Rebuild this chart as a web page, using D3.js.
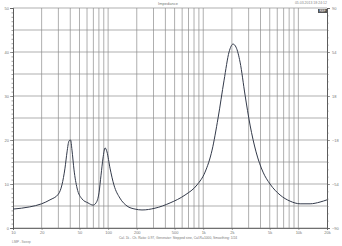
<!DOCTYPE html>
<html>
<head>
<meta charset="utf-8">
<script src="https://cdn.jsdelivr.net/npm/d3@7"></script>
<style>
  body { margin: 0; background: #fff; }
  svg { display: block; font-family: "Liberation Sans", Arial, sans-serif; }
</style>
</head>
<body>
<div id="chart"></div>
<script>
// impedance sweep
const freqs = [10, 15, 20, 24.5, 30, 32.7, 35.2, 37, 38.8, 40.3, 41.7, 43.8, 47.1, 53.2, 61.5, 69.4, 74.6,
  80.2, 84.2, 88.4, 92.8, 97.3, 104.7, 115, 133, 158, 192, 227, 311, 448, 644, 861, 1045, 1238, 1432,
  1656, 1868, 2057, 2212, 2439, 2752, 3105, 3591, 4252, 5036, 6422, 8190, 10430, 13280, 16900, 20000];
const ohms = [4.3, 4.8, 5.5, 6.4, 7.7, 9.8, 13.6, 17.3, 19.8, 20, 17.7, 13.2, 9.1, 6.6, 5.7, 5.2, 5.7,
  8.0, 12, 15.9, 18.2, 17.3, 13.6, 9.8, 6.8, 5.0, 4.3, 4.1, 4.5, 5.7, 7.5, 9.8, 12.7, 17.7, 25,
  33.6, 40, 41.8, 41.1, 37.7, 30.2, 23.4, 17.3, 12.7, 10, 7.5, 6.1, 5.5, 5.5, 5.9, 6.4];

const xTickLabels = [10, 20, 50, 100, 200, 500, 1000, 2000, 5000, 10000, 20000];
const leftTicks = [0, 10, 20, 30, 40, 50];
const rightTicks = [-90, -54, -18, 18, 54, 90];

const W = 342, H = 246;
const margin = { top: 8, right: 15, bottom: 18, left: 13 };

const svg = d3.select("#chart").append("svg")
  .attr("width", W).attr("height", H);

svg.append("rect").attr("width", W).attr("height", H).attr("fill", "#fff");

const x = d3.scaleLog().domain([10, 20000]).range([margin.left, W - margin.right]);
const y = d3.scaleLinear().domain([0, 50]).range([H - margin.bottom, margin.top]);
const yR = d3.scaleLinear().domain([-90, 90]).range([H - margin.bottom, margin.top]);

// vertical grid: every 1..9 per decade
const vgrid = [];
for (let dec = 10; dec <= 10000; dec *= 10) {
  for (let m = 1; m <= 9; m++) {
    const f = dec * m;
    if (f > 10 && f < 20000) vgrid.push(f);
  }
}
svg.append("g").selectAll("line").data(vgrid).enter().append("line")
  .attr("x1", d => x(d)).attr("x2", d => x(d))
  .attr("y1", y(50)).attr("y2", y(0))
  .attr("stroke", "#8c8c8c").attr("stroke-width", 0.7);

svg.append("g").selectAll("line").data(d3.range(0, 51, 5)).enter().append("line")
  .attr("x1", x(10)).attr("x2", x(20000))
  .attr("y1", d => y(d)).attr("y2", d => y(d))
  .attr("stroke", "#8c8c8c").attr("stroke-width", 0.7);

// axes
const fmtF = d => d >= 1000 ? (d / 1000) + "k" : d;
const xAxis = svg.append("g")
  .attr("transform", "translate(0," + y(0) + ")")
  .call(d3.axisBottom(x).tickValues(xTickLabels).tickFormat(fmtF).tickSize(2).tickPadding(1.5));

const yAxis = svg.append("g")
  .attr("transform", "translate(" + x(10) + ",0)")
  .call(d3.axisLeft(y).tickValues(leftTicks).tickSize(3).tickPadding(1));

const yAxisMinor = svg.append("g")
  .attr("transform", "translate(" + x(10) + ",0)")
  .call(d3.axisLeft(y).tickValues(d3.range(0, 51, 1)).tickFormat("").tickSize(1.5));

const yAxisR = svg.append("g")
  .attr("transform", "translate(" + x(20000) + ",0)")
  .call(d3.axisRight(yR).tickValues(rightTicks).tickSize(3).tickPadding(2));

const yAxisRMinor = svg.append("g")
  .attr("transform", "translate(" + x(20000) + ",0)")
  .call(d3.axisRight(yR).tickValues(d3.range(-90, 91, 6)).tickFormat("").tickSize(1.5));

[xAxis, yAxis, yAxisMinor, yAxisR, yAxisRMinor].forEach(g => {
  g.selectAll("path").attr("stroke", "#555").attr("stroke-width", 0.8);
  g.selectAll("line").attr("stroke", "#666").attr("stroke-width", 0.6);
  g.selectAll("text").attr("font-size", 4).attr("fill", "#777");
});

// the curve
const pts = freqs.map((f, i) => [f, ohms[i]]);
const line = d3.line()
  .x(d => x(d[0]))
  .y(d => y(d[1]))
  .curve(d3.curveMonotoneX);

svg.append("path")
  .datum(pts)
  .attr("d", line)
  .attr("fill", "none")
  .attr("stroke", "#333a4a")
  .attr("stroke-width", 1);

// captions
svg.append("text").attr("x", 168).attr("y", 5).attr("text-anchor", "middle")
  .attr("font-size", 4).attr("fill", "#777").text("Impedance");
svg.append("text").attr("x", 327).attr("y", 4).attr("text-anchor", "end")
  .attr("font-size", 3.5).attr("fill", "#888").text("05.03.2013 18:24:12");
svg.append("rect").attr("x", 318).attr("y", 9).attr("width", 9).attr("height", 4).attr("fill", "#555");
svg.append("text").attr("x", 322.5).attr("y", 12.2).attr("text-anchor", "middle")
  .attr("font-size", 3).attr("fill", "#fff").text("REF");
svg.append("text").attr("x", 178).attr("y", 238.5).attr("text-anchor", "middle")
  .attr("font-size", 3.3).attr("fill", "#777")
  .text("Cal. 1k - Ch. Ratio: 0.97, Generator: Stepped sine, Cal.R=1000, Smoothing: 1/24");
svg.append("text").attr("x", 12).attr("y", 243)
  .attr("font-size", 3).attr("fill", "#888").text("LIMP - Sweep");
</script>
</body>
</html>
